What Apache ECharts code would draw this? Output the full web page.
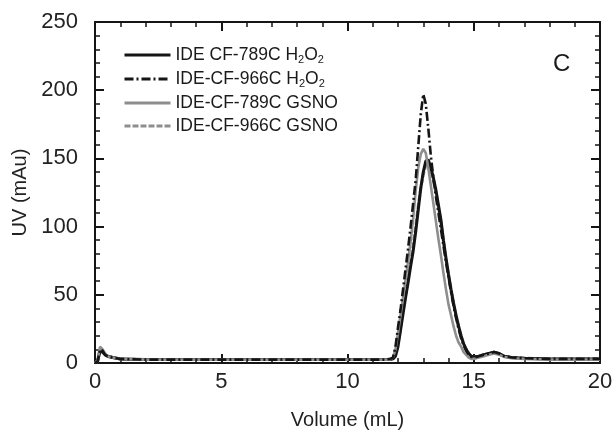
<!DOCTYPE html>
<html>
<head>
<meta charset="utf-8">
<script src="https://cdn.jsdelivr.net/npm/echarts@6/dist/echarts.min.js"></script>
<style>
  html, body { margin: 0; padding: 0; background: #fff; }
  #chart { width: 616px; height: 435px; }
</style>
</head>
<body>
<div id="chart"></div>
<script>
// Elution volume (mL), shared by all four traces
var volume = [
  0, 0.1, 0.2, 0.3, 0.4, 0.5, 0.7, 1,
  2, 3, 4, 5, 6, 7, 8, 9, 10, 11, 11.5,
  11.7, 11.8, 11.9, 12.0, 12.1, 12.2, 12.3, 12.4, 12.5, 12.6, 12.7, 12.8, 12.9,
  13.0, 13.1, 13.2, 13.3, 13.4, 13.5, 13.6, 13.7, 13.8, 13.9,
  14.0, 14.1, 14.2, 14.3, 14.4, 14.5, 14.6, 14.7, 14.8, 14.9, 15.0,
  15.2, 15.4, 15.6, 15.8, 16.0, 16.2, 16.5, 17, 18, 19, 20
];

// UV absorbance (mAu)
var uv789H2O2 = [
  0, 1, 9, 8, 6, 5, 4, 3,
  2.5, 2.5, 2.5, 2.5, 2.5, 2.5, 2.5, 2.5, 2.5, 2.5, 2.5,
  2.5, 3, 5, 12, 24, 36, 48, 59, 71, 82, 96, 112, 128,
  140, 148, 149, 143, 136, 127, 116, 105, 90, 77,
  65, 54, 44, 35, 27, 20, 14, 10, 7, 5, 4.5,
  5, 6, 7, 8, 7, 5, 4, 3.5, 3, 3, 3
];
var uv966H2O2 = [
  0, 1, 10, 9, 6, 5, 4, 3,
  2.5, 2.5, 2.5, 2.5, 2.5, 2.5, 2.5, 2.5, 2.5, 2.5, 2.5,
  3, 4, 12, 26, 39, 54, 69, 84, 100, 117, 134, 158, 182,
  197, 190, 172, 152, 136, 122, 110, 98, 86, 74,
  63, 52, 42, 33, 25, 18, 13, 9, 6, 4.5, 4,
  5, 6, 7, 8, 7, 5, 4, 3.5, 3, 3, 3
];
var uv789GSNO = [
  0, 2, 12, 10, 7, 5, 4, 3,
  2.5, 2.5, 2.5, 2.5, 2.5, 2.5, 2.5, 2.5, 2.5, 2.5, 2.5,
  2.5, 4, 10, 22, 35, 48, 61, 75, 89, 106, 126, 143, 153,
  157, 154, 143, 130, 117, 104, 91, 79, 66, 54,
  43, 35, 27, 20, 15, 12, 8, 6, 4, 3, 3,
  4, 5, 6, 7, 6, 4.5, 3.5, 3, 2.5, 2.5, 2.5
];
var uv966GSNO = [
  0, 1, 10, 8, 6, 5, 4, 3,
  2.5, 2.5, 2.5, 2.5, 2.5, 2.5, 2.5, 2.5, 2.5, 2.5, 2.5,
  2.5, 3, 6, 14, 26, 38, 50, 62, 74, 86, 100, 115, 128,
  138, 145, 146, 141, 134, 125, 114, 103, 89, 76,
  64, 53, 43, 34, 26, 19, 14, 10, 7, 5, 4.5,
  5, 6, 7, 8, 7, 5, 4, 3.5, 3, 3, 3
];

var xTicks = { min: 0, max: 20, interval: 5 };
var yTicks = { min: 0, max: 250, interval: 50 };

var seriesNames = ['IDE CF-789C H2O2', 'IDE-CF-966C H2O2', 'IDE-CF-789C GSNO', 'IDE-CF-966C GSNO'];
var legendRich = {
  '789H': '{t|IDE CF-789C H}{s|2}{t|O}{s|2}',
  '966H': '{t|IDE-CF-966C H}{s|2}{t|O}{s|2}'
};

function pairs(ys) {
  return volume.map(function (v, i) { return [v, ys[i]]; });
}

var FONT = '"Liberation Sans", Arial, sans-serif';
var BLACK = '#151515';
var GRAY = '#8e8e8e';

function axisCommon(extra) {
  var base = {
    type: 'value',
    axisLine: { show: true, onZero: false, lineStyle: { color: BLACK, width: 2 } },
    axisTick: { show: true, inside: true, length: 9, lineStyle: { color: BLACK, width: 2 } },
    minorTick: { show: true, splitNumber: 5, length: 5, lineStyle: { color: BLACK, width: 1.5 } },
    splitLine: { show: false },
    axisLabel: { show: false }
  };
  for (var k in extra) base[k] = extra[k];
  return base;
}

var chart = echarts.init(document.getElementById('chart'));
chart.setOption({
  animation: false,
  backgroundColor: '#ffffff',
  textStyle: { fontFamily: FONT },
  grid: { left: 95, right: 16, top: 22, bottom: 72 },
  xAxis: [
    axisCommon({
      position: 'bottom', min: xTicks.min, max: xTicks.max, interval: xTicks.interval,
      name: 'Volume (mL)', nameLocation: 'middle', nameGap: 47,
      nameTextStyle: { fontSize: 20, color: '#222', fontFamily: FONT },
      axisLabel: { show: true, fontSize: 22, color: '#222', margin: 8, fontFamily: FONT }
    }),
    axisCommon({
      position: 'top', min: xTicks.min, max: xTicks.max, interval: xTicks.interval
    })
  ],
  yAxis: [
    axisCommon({
      position: 'left', min: yTicks.min, max: yTicks.max, interval: yTicks.interval,
      name: 'UV (mAu)', nameLocation: 'middle', nameGap: 62,
      nameTextStyle: { fontSize: 20, color: '#222', fontFamily: FONT },
      axisLabel: { show: true, fontSize: 22, color: '#222', margin: 17, fontFamily: FONT }
    }),
    axisCommon({
      position: 'right', min: yTicks.min, max: yTicks.max, interval: yTicks.interval
    })
  ],
  legend: {
    data: seriesNames,
    orient: 'vertical',
    left: 118,
    top: 41,
    itemWidth: 46,
    itemHeight: 12,
    itemGap: 5,
    itemStyle: { opacity: 0 },
    lineStyle: { width: 3 },
    formatter: function (name) {
      if (name === seriesNames[0]) return legendRich['789H'];
      if (name === seriesNames[1]) return legendRich['966H'];
      return '{t|' + name + '}';
    },
    textStyle: {
      color: '#1a1a1a',
      fontFamily: FONT,
      rich: {
        t: { fontSize: 17.5, color: '#1a1a1a', fontFamily: FONT, height: 21 },
        s: { fontSize: 11, color: '#1a1a1a', fontFamily: FONT, padding: [9, 0, 0, 0] }
      }
    }
  },
  graphic: [{
    type: 'text',
    left: 553, top: 52,
    style: { text: 'C', font: '24px ' + FONT, fill: '#1a1a1a' }
  }],
  series: [
    {
      name: seriesNames[0], type: 'line', data: pairs(uv789H2O2),
      symbol: 'none', z: 3, color: BLACK,
      lineStyle: { color: BLACK, width: 3, type: 'solid' }
    },
    {
      name: seriesNames[1], type: 'line', data: pairs(uv966H2O2),
      symbol: 'none', z: 5, color: BLACK,
      lineStyle: { color: BLACK, width: 2.6, type: [9, 3, 2, 3] }
    },
    {
      name: seriesNames[2], type: 'line', data: pairs(uv789GSNO),
      symbol: 'none', z: 4, color: GRAY,
      lineStyle: { color: GRAY, width: 2.6, type: 'solid' }
    },
    {
      name: seriesNames[3], type: 'line', data: pairs(uv966GSNO),
      symbol: 'none', z: 2, color: GRAY,
      lineStyle: { color: GRAY, width: 3, type: [6, 2] }
    }
  ]
});
</script>
</body>
</html>
